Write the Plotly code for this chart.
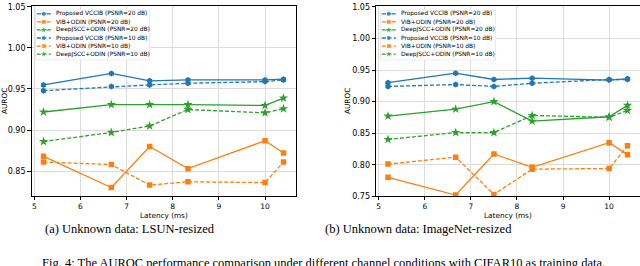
import plotly.graph_objects as go

W, H = 640, 266

latency = [5.2, 6.67, 7.5, 8.33, 10.0, 10.4]
series_names = [
    "Proposed VCCIB (PSNR=20 dB)",
    "VIB+ODIN (PSNR=20 dB)",
    "DeepJSCC+ODIN (PSNR=20 dB)",
    "Proposed VCCIB (PSNR=10 dB)",
    "VIB+ODIN (PSNR=10 dB)",
    "DeepJSCC+ODIN (PSNR=10 dB)",
]

# (a) LSUN-resized
lsun_vccib20 = [0.955, 0.969, 0.960, 0.961, 0.961, 0.962]
lsun_vib20 = [0.868, 0.830, 0.880, 0.853, 0.887, 0.872]
lsun_djscc20 = [0.922, 0.931, 0.931, 0.931, 0.930, 0.939]
lsun_vccib10 = [0.948, 0.953, 0.955, 0.957, 0.959, 0.961]
lsun_vib10 = [0.861, 0.858, 0.833, 0.837, 0.836, 0.861]
lsun_djscc10 = [0.886, 0.897, 0.905, 0.925, 0.921, 0.926]

# (b) ImageNet-resized
imnet_vccib20 = [0.930, 0.945, 0.935, 0.937, 0.934, 0.936]
imnet_vib20 = [0.780, 0.752, 0.817, 0.796, 0.835, 0.816]
imnet_djscc20 = [0.877, 0.888, 0.900, 0.869, 0.876, 0.894]
imnet_vccib10 = [0.924, 0.927, 0.924, 0.929, 0.935, 0.935]
imnet_vib10 = [0.801, 0.812, 0.753, 0.793, 0.794, 0.830]
imnet_djscc10 = [0.840, 0.851, 0.851, 0.878, 0.875, 0.886]

x_ticks = [5, 6, 7, 8, 9, 10]
y_ticks_a = [0.85, 0.90, 0.95, 1.00, 1.05]
y_ticks_b = [0.75, 0.80, 0.85, 0.90, 0.95, 1.00, 1.05]

captions = ["(a) Unknown data: LSUN-resized", "(b) Unknown data: ImageNet-resized"]
fig_caption = "Fig. 4: The AUROC performance comparison under different channel conditions with CIFAR10 as training data."

BLUE, ORANGE, GREEN = "#1f77b4", "#ff7f0e", "#2ca02c"
colors = [BLUE, ORANGE, GREEN, BLUE, ORANGE, GREEN]
symbols = ["hexagon", "square", "star", "hexagon", "square", "star"]
msizes = [6, 5.5, 7, 6, 5.5, 7]
dashes = ["solid", "solid", "solid", "4px,2px", "4px,2px", "4px,2px"]

FONT = "DejaVu Sans"
SERIF = "Liberation Serif"

panel_a = [lsun_vccib20, lsun_vib20, lsun_djscc20, lsun_vccib10, lsun_vib10, lsun_djscc10]
panel_b = [imnet_vccib20, imnet_vib20, imnet_djscc20, imnet_vccib10, imnet_vib10, imnet_djscc10]

fig = go.Figure()

for axn, panel in [("", panel_a), ("2", panel_b)]:
    for i, ys in enumerate(panel):
        fig.add_trace(go.Scatter(
            x=latency, y=ys, mode="lines+markers", name=series_names[i],
            xaxis="x" + axn, yaxis="y" + axn, showlegend=False,
            line=dict(color=colors[i], width=1.3, dash=dashes[i]),
            marker=dict(symbol=symbols[i], size=msizes[i], color=colors[i]),
        ))

def px_x(p):
    return p / W

def px_y(p):
    return 1 - p / H

ydom = [px_y(199.3), px_y(3)]
common_x = dict(range=[4.94, 10.66], tickvals=x_ticks, ticks="outside", ticklen=2.5,
                tickwidth=0.8, tickcolor="black", showline=True, mirror=True,
                linecolor="black", linewidth=0.8, showgrid=True, gridcolor="#dcdcdc",
                gridwidth=0.8, zeroline=False, ticklabeloverflow="allow",
                tickfont=dict(family=FONT, size=7.5, color="black"))
common_y = dict(ticks="outside", ticklen=3.5, tickwidth=0.8, tickcolor="black",
                showline=True, mirror=True, linecolor="black", linewidth=0.8,
                showgrid=True, gridcolor="#dcdcdc", gridwidth=0.8, zeroline=False,
                ticklabeloverflow="allow",
                tickfont=dict(family=FONT, size=8, color="black"))

layout = dict(
    width=W, height=H, margin=dict(l=0, r=0, t=0, b=0),
    paper_bgcolor="white", plot_bgcolor="white", showlegend=False,
    xaxis=dict(domain=[px_x(31.5), px_x(295.5)], anchor="y", **common_x),
    yaxis=dict(domain=ydom, anchor="x", range=[0.8193, 1.0512], tickvals=y_ticks_a,
               ticktext=[f"{v:.2f}" for v in y_ticks_a], **common_y),
    xaxis2=dict(domain=[px_x(376), px_x(639.5)], anchor="y2", **common_x),
    yaxis2=dict(domain=ydom, anchor="x2", range=[0.75, 1.0515], tickvals=y_ticks_b,
                ticktext=[f"{v:.2f}" for v in y_ticks_b], **common_y),
)

# manual legends (one per panel), drawn in pixel units inside a legend axis
legend_boxes = [(35, 150), (380, 496)]
box_top, box_bot = 7, 59
shapes = []
annotations = []
for k, (bx0, bx1) in enumerate(legend_boxes):
    n = str(3 + k)
    bw = bx1 - bx0
    bh = box_bot - box_top
    layout["xaxis" + n] = dict(domain=[px_x(bx0), px_x(bx1)], range=[0, bw], visible=False,
                              fixedrange=True, anchor="y" + n)
    layout["yaxis" + n] = dict(domain=[px_y(box_bot), px_y(box_top)], range=[bh, 0], visible=False,
                              fixedrange=True, anchor="x" + n)
    shapes.append(dict(type="rect", xref="x" + n, yref="y" + n, x0=0, x1=bw, y0=0, y1=bh,
                       fillcolor="rgba(255,255,255,0.85)", line=dict(color="#cccccc", width=0.8),
                       layer="below"))
    for i, name in enumerate(series_names):
        row = 4.2 + i * 8.3
        fig.add_trace(go.Scatter(
            x=[1.8, 8.8, 15.8], y=[row, row, row], mode="lines+markers",
            xaxis="x" + n, yaxis="y" + n, showlegend=False, hoverinfo="skip",
            line=dict(color=colors[i], width=1.3, dash=dashes[i]),
            marker=dict(symbol=symbols[i], size=[0, msizes[i] - 0.5, 0], color=colors[i]),
        ))
        annotations.append(dict(xref="x" + n, yref="y" + n, x=19, y=row, text=name,
                                showarrow=False, xanchor="left", yanchor="middle",
                                font=dict(family=FONT, size=5.9, color="black")))

plot_mid_y = px_y(101)
for xc in [5, 348]:
    annotations.append(dict(xref="paper", yref="paper", x=px_x(xc), y=plot_mid_y, text="AUROC",
                            textangle=-90, showarrow=False, xanchor="center", yanchor="middle",
                            font=dict(family=FONT, size=7.3, color="black")))
for xc in [163.5, 508]:
    annotations.append(dict(xref="paper", yref="paper", x=px_x(xc), y=px_y(219.5), text="Latency (ms)",
                            showarrow=False, xanchor="center", yanchor="middle",
                            font=dict(family=FONT, size=7.3, color="black")))
for xc, cap in zip([130, 418.5], captions):
    annotations.append(dict(xref="paper", yref="paper", x=px_x(xc), y=px_y(233), text=cap,
                            showarrow=False, xanchor="center", yanchor="middle",
                            font=dict(family=SERIF, size=12.5, color="black")))
annotations.append(dict(xref="paper", yref="paper", x=px_x(40), y=px_y(258.5), text=fig_caption,
                        showarrow=False, xanchor="left", yanchor="top",
                        font=dict(family=SERIF, size=12.5, color="black")))

layout["shapes"] = shapes
layout["annotations"] = annotations
fig.update_layout(**layout)
fig.write_html("out.html", config={"displayModeBar": False, "responsive": False},
               post_script="document.body.style.margin='0px';")
